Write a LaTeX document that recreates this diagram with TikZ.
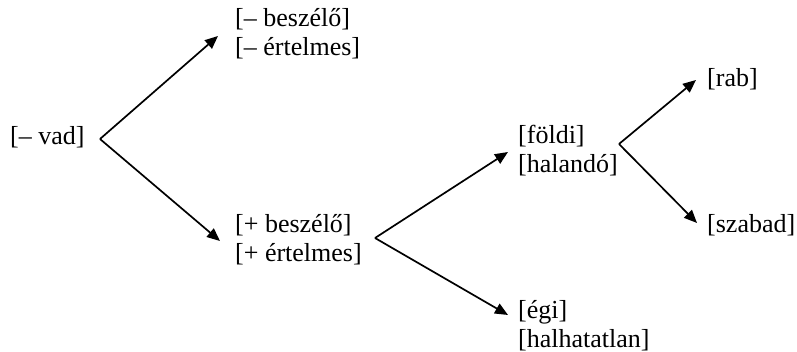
\documentclass[tikz,border=0pt]{standalone}
\usepackage{fontspec}
\setmainfont{Liberation Serif}
\usetikzlibrary{arrows.meta}
\begin{document}
\begin{tikzpicture}[x=1pt,y=-1pt,
  lab/.style={anchor=base west,inner sep=0pt,align=left,font=\fontsize{26}{29}\selectfont},
  arr/.style={line width=1.7pt,-{Triangle[length=13pt,width=11pt]}}]
\useasboundingbox (0,0) rectangle (797,352);
\node[lab] (vad) at (10,145) {[– vad]};
\node[lab] (nb) at (235,56) {[– beszélő]\\{}[– értelmes]};
\node[lab] (pb) at (235,262) {[+ beszélő]\\{}[+ értelmes]};
\node[lab] (fo) at (518,173) {[földi]\\{}[halandó]};
\node[lab] (eg) at (518,347) {[égi]\\{}[halhatatlan]};
\node[lab] (rab) at (707,87) {[rab]};
\node[lab] (sz) at (707,233) {[szabad]};
\coordinate (v1) at (100,139);
\coordinate (v2) at (375,238);
\coordinate (v3) at (619,144);
\coordinate (t1) at (218,36);
\coordinate (t2) at (220,241);
\coordinate (t3) at (508,152);
\coordinate (t4) at (508,315);
\coordinate (t5) at (696,80);
\coordinate (t6) at (697,223);
\draw[arr] (v1) -- (t1);
\draw[arr] (v1) -- (t2);
\draw[arr] (v2) -- (t3);
\draw[arr] (v2) -- (t4);
\draw[arr] (v3) -- (t5);
\draw[arr] (v3) -- (t6);
\end{tikzpicture}
\end{document}
